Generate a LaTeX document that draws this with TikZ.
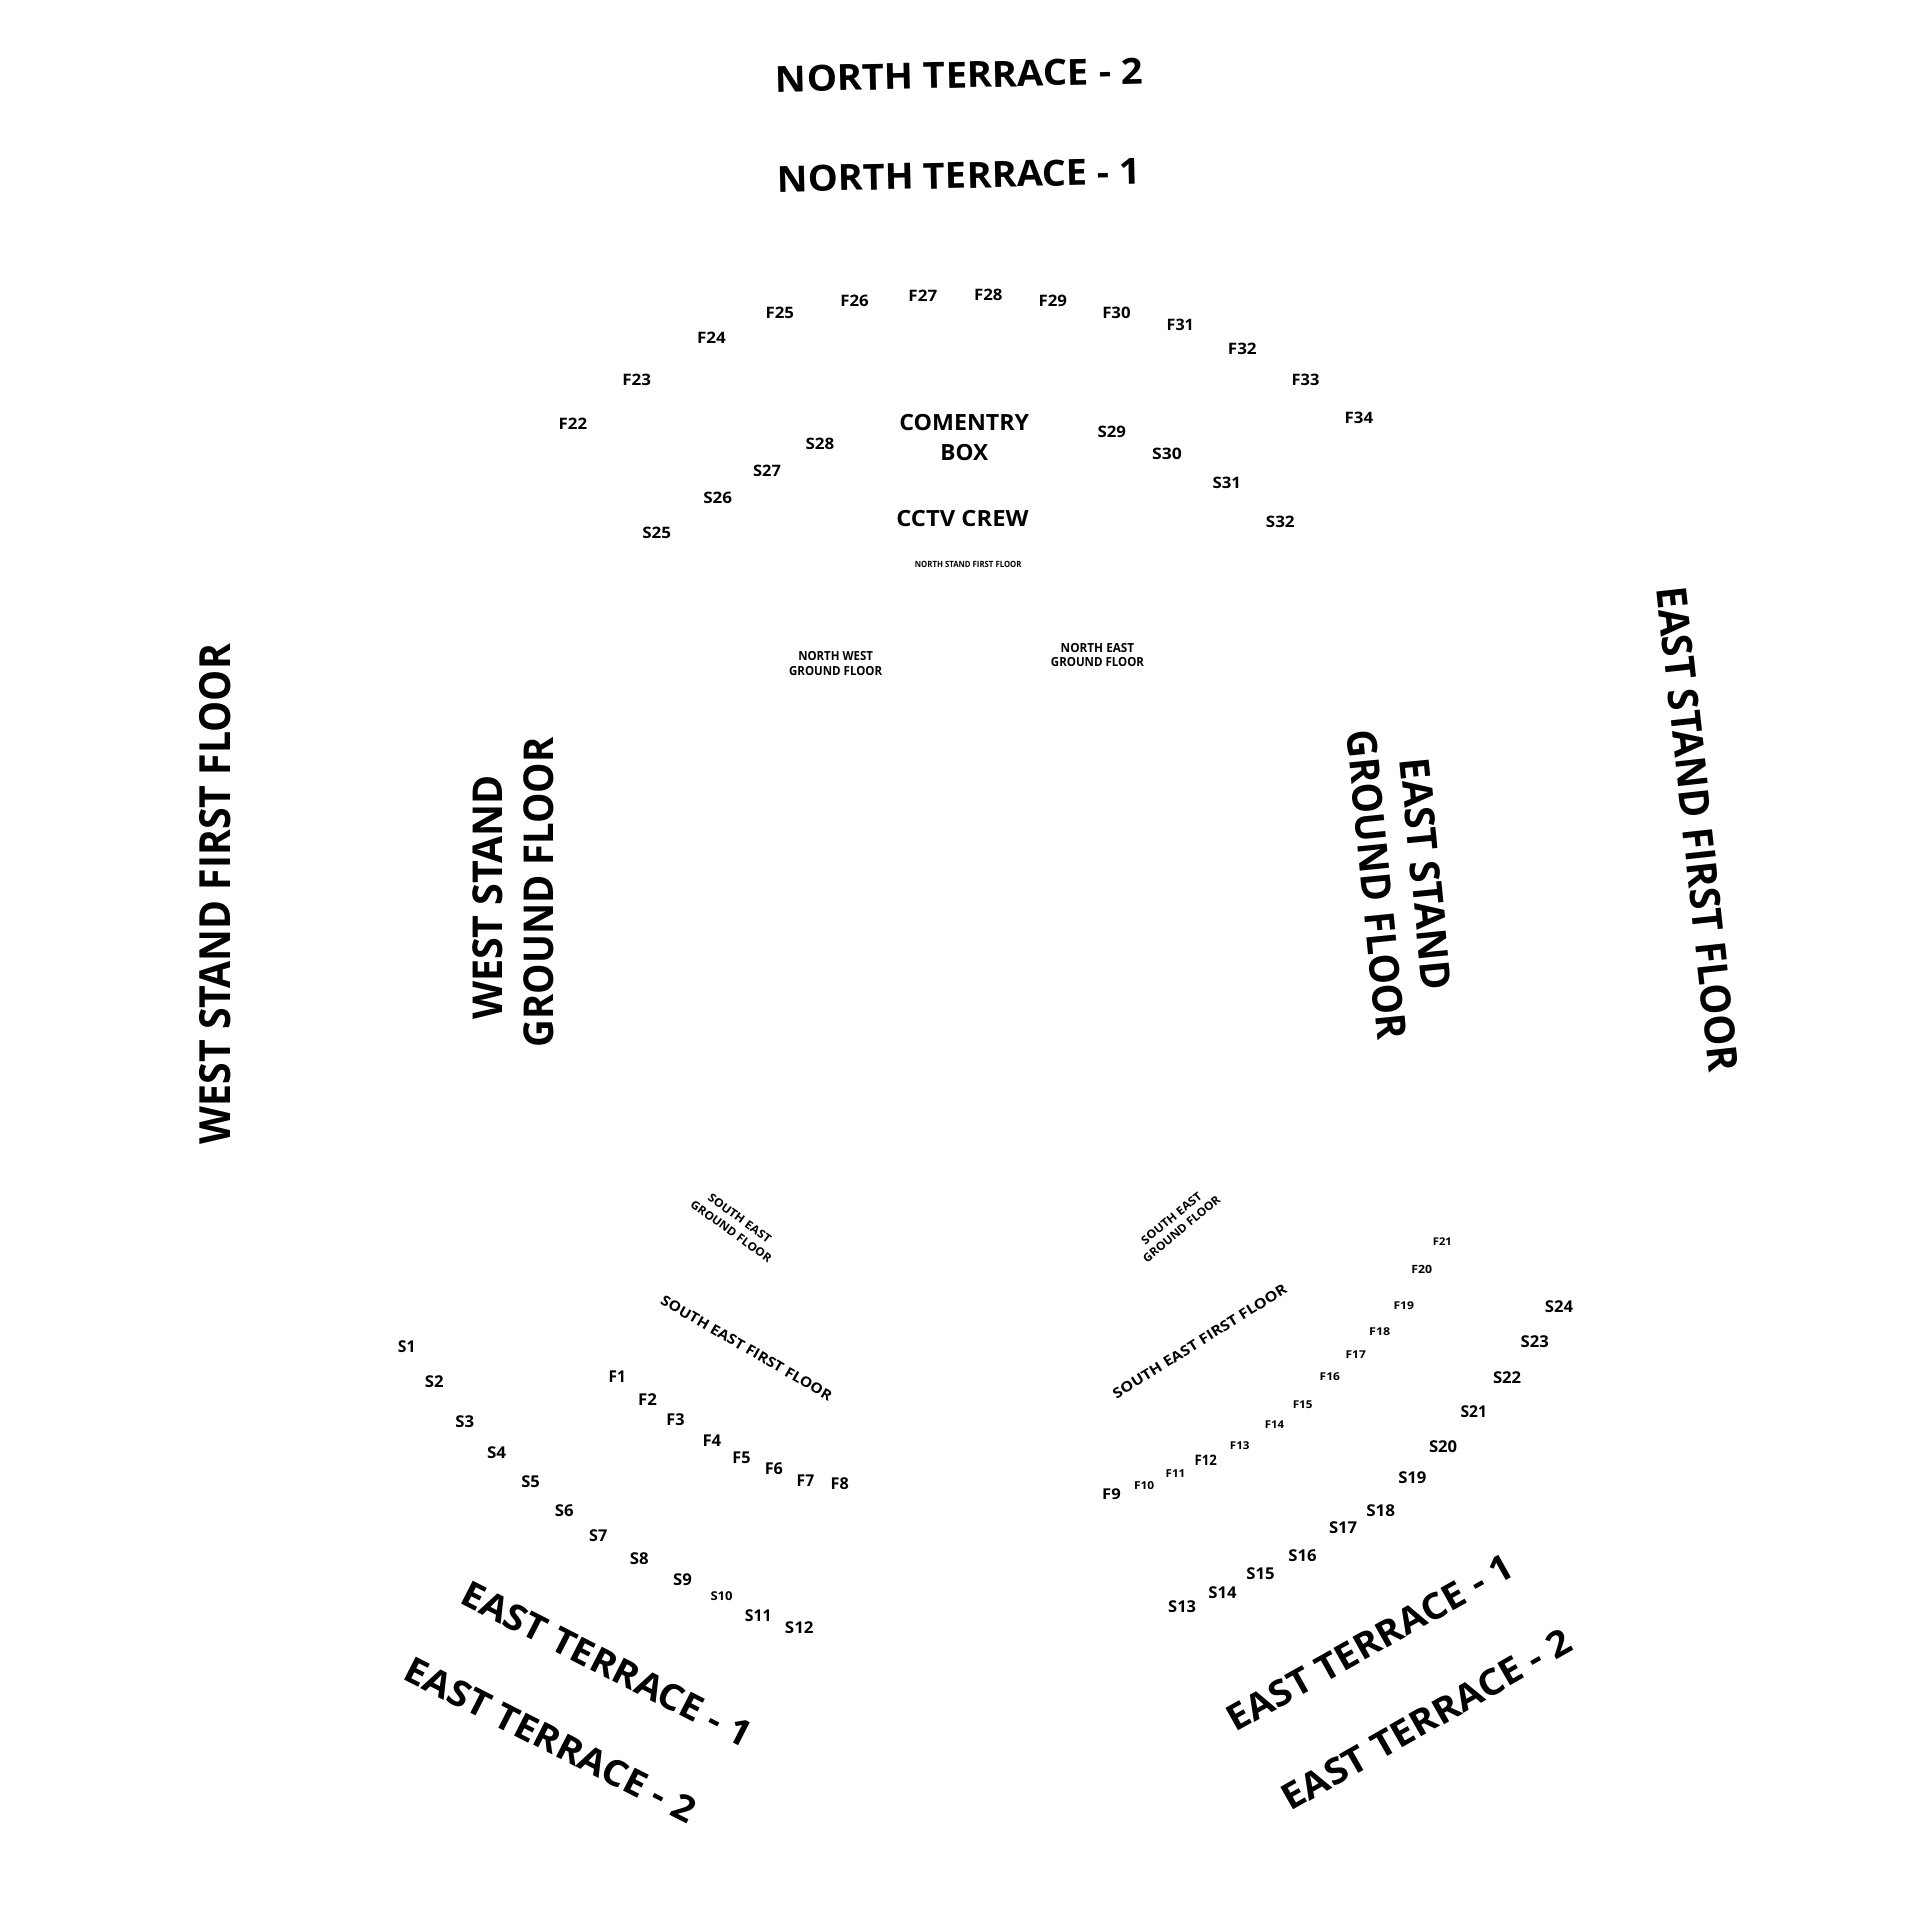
\documentclass[tikz,border=0pt]{standalone}
\usepackage{fontspec}
\setmainfont{Open Sans}
\tikzset{lbl/.style={inner sep=0pt, outer sep=0pt, font=\bfseries}}
\newsavebox\lblbox
\newcommand\mklabel[6]{%
  \pgfmathsetmacro\lblfs{#5/0.714}%
  \begin{pgfinterruptpicture}%
    \global\setbox\lblbox\hbox{\fontsize{\lblfs pt}{\lblfs pt}\selectfont\bfseries #6}%
  \end{pgfinterruptpicture}%
  \edef\lblwdt{\the\wd\lblbox}%
  \pgfmathsetmacro\lblsx{#4/\lblwdt}%
  \node[lbl,rotate=#3,xscale=\lblsx] (#1) at (#2) {\fontsize{\lblfs pt}{\lblfs pt}\selectfont #6};}
\begin{document}
\begin{tikzpicture}[x=1pt,y=-1pt]
\fill[white] (0,0) rectangle (1567,1567);
\useasboundingbox (0,0) rectangle (1567,1567);
% north terraces
\mklabel{nt2}{783,61.2}{1.3}{300}{21}{NORTH TERRACE - 2}
\mklabel{nt1}{782.7,143.1}{1.3}{297}{21}{NORTH TERRACE - 1}
% centre top
\mklabel{comentry}{787,344.6}{0}{106}{13}{COMENTRY}
\mklabel{box}{787,369.4}{0}{39}{13}{BOX}
\mklabel{cctv}{785.5,423}{0}{108}{13}{CCTV CREW}
\mklabel{nsff}{790.2,460.8}{0}{87}{5}{NORTH STAND FIRST FLOOR}
\mklabel{nwa}{682,535.3}{0}{61}{7.3}{NORTH WEST}
\mklabel{nwb}{682,547.3}{0}{76}{7.3}{GROUND FLOOR}
\mklabel{nea}{895.7,528.5}{0}{60}{7.3}{NORTH EAST}
\mklabel{neb}{895.7,540.7}{0}{76}{7.3}{GROUND FLOOR}
% north first floor seats
\mklabel{f22}{467.6,346}{0}{23.2}{9.2}{F22}
\mklabel{f23}{519.6,310}{0}{23.5}{9.2}{F23}
\mklabel{f24}{580.6,275.3}{0}{23.5}{9.2}{F24}
\mklabel{f25}{636.4,255.1}{0}{23.2}{9.2}{F25}
\mklabel{f26}{697.4,245.6}{0}{23.2}{9.2}{F26}
\mklabel{f27}{753.2,241}{0}{23.5}{9.2}{F27}
\mklabel{f28}{806.6,241}{0}{23.2}{9.2}{F28}
\mklabel{f29}{859.2,245.6}{0}{23.2}{9.2}{F29}
\mklabel{f30}{911.2,255.4}{0}{23.2}{9.2}{F30}
\mklabel{f31}{963.3,265.5}{0}{22.2}{9.2}{F31}
\mklabel{f32}{1013.9,284.8}{0}{23.5}{9.2}{F32}
\mklabel{f33}{1065.5,310}{0}{22.7}{9.2}{F33}
\mklabel{f34}{1109.1,341.4}{0}{23.2}{9.2}{F34}
\mklabel{s25}{536,435.2}{0}{23.5}{9.2}{S25}
\mklabel{s26}{585.7,406.6}{0}{23.5}{9.2}{S26}
\mklabel{s27}{626,384.1}{0}{22.7}{9.2}{S27}
\mklabel{s28}{669.2,362.6}{0}{23.5}{9.2}{S28}
\mklabel{s29}{907.4,352.8}{0}{23.2}{9.2}{S29}
\mklabel{s30}{952.4,370.5}{0}{24.2}{9.2}{S30}
\mklabel{s31}{1001.2,394.4}{0}{23.2}{9.2}{S31}
\mklabel{s32}{1044.9,426.2}{0}{23.5}{9.2}{S32}
% west
\mklabel{wsff}{175.9,729.7}{90}{408}{25}{WEST STAND FIRST FLOOR}
\mklabel{wsa}{398,732.4}{90}{200}{24}{WEST STAND}
\mklabel{wsb}{439.6,728.3}{90}{253}{24}{GROUND FLOOR}
% east
\mklabel{esff}{1385.6,676.6}{-83.8}{398}{24.3}{EAST STAND FIRST FLOOR}
\mklabel{esa}{1163.7,713.3}{-84.4}{190}{24}{EAST STAND}
\mklabel{esb}{1123.6,722.2}{-84.3}{254}{24}{GROUND FLOOR}
% south east labels left
\mklabel{segla}{603.7,994}{-36}{61}{6.7}{SOUTH EAST}
\mklabel{seglb}{596.8,1005}{-36}{79}{6.7}{GROUND FLOOR}
\mklabel{seffl}{609.3,1100.2}{-30}{159}{8.2}{SOUTH EAST FIRST FLOOR}
% south east labels right
\mklabel{segra}{956.1,994.2}{39.5}{61}{6.7}{SOUTH EAST}
\mklabel{segrb}{964.3,1003.1}{40}{79}{6.7}{GROUND FLOOR}
\mklabel{seffr}{979.2,1094.8}{32}{165}{8.2}{SOUTH EAST FIRST FLOOR}
% left seats S1-S12
\mklabel{s1}{331.9,1099.4}{0}{14.3}{9.5}{S1}
\mklabel{s2}{354.4,1128}{0}{15.3}{9.5}{S2}
\mklabel{s3}{379.4,1160.6}{0}{15.3}{9.5}{S3}
\mklabel{s4}{405.3,1185.9}{0}{15.6}{9.5}{S4}
\mklabel{s5}{433,1209.6}{0}{15.1}{9.5}{S5}
\mklabel{s6}{460.5,1233}{0}{15.3}{9.5}{S6}
\mklabel{s7}{488.2,1253.1}{0}{14.8}{9.5}{S7}
\mklabel{s8}{521.7,1272.4}{0}{15.3}{9.5}{S8}
\mklabel{s9}{557.1,1289.3}{0}{15.3}{9.5}{S9}
\mklabel{s10}{588.9,1302.9}{0}{18}{7.1}{S10}
\mklabel{s11}{618.8,1318.7}{0}{21.8}{9.5}{S11}
\mklabel{s12}{652.3,1328.7}{0}{23.4}{9.5}{S12}
% left seats F1-F8
\mklabel{f1}{503.7,1123.9}{0}{14}{9.5}{F1}
\mklabel{f2}{528.5,1142.4}{0}{15.3}{9.5}{F2}
\mklabel{f3}{551.3,1158.7}{0}{14.8}{9.5}{F3}
\mklabel{f4}{581,1175.9}{0}{15.3}{9.5}{F4}
\mklabel{f5}{605.2,1190}{0}{14.8}{9.5}{F5}
\mklabel{f6}{631.6,1198.7}{0}{14.8}{9.5}{F6}
\mklabel{f7}{657.4,1208.5}{0}{14.3}{9.5}{F7}
\mklabel{f8}{685.4,1211}{0}{14.8}{9.5}{F8}
% right seats F9-F21
\mklabel{f9}{907.1,1219.1}{0}{15.2}{8.7}{F9}
\mklabel{f10}{933.8,1212.3}{0}{16.5}{6.4}{F10}
\mklabel{f11}{959.4,1202.8}{0}{16}{6.4}{F11}
\mklabel{f12}{984.1,1191.4}{0}{18.2}{8.4}{F12}
\mklabel{f13}{1011.8,1179.7}{0}{16}{6.3}{F13}
\mklabel{f14}{1040.1,1162.8}{0}{15.7}{6.3}{F14}
\mklabel{f15}{1063.2,1146.5}{0}{16.2}{6.3}{F15}
\mklabel{f16}{1085.3,1123.4}{0}{16.5}{6.3}{F16}
\mklabel{f17}{1106.5,1105.4}{0}{16.5}{6.3}{F17}
\mklabel{f18}{1126.1,1086.7}{0}{17.3}{6.3}{F18}
\mklabel{f19}{1145.7,1065.7}{0}{16.8}{6.3}{F19}
\mklabel{f20}{1160.4,1036.3}{0}{17}{6.6}{F20}
\mklabel{f21}{1177.2,1013.5}{0}{15.4}{6.2}{F21}
% right seats S13-S24
\mklabel{s13}{964.8,1311.6}{0}{22.7}{9.5}{S13}
\mklabel{s14}{997.7,1299.6}{0}{23}{9.5}{S14}
\mklabel{s15}{1028.7,1284.6}{0}{23}{9.5}{S15}
\mklabel{s16}{1063,1269.7}{0}{23}{9.5}{S16}
\mklabel{s17}{1096.2,1247.1}{0}{23}{9.5}{S17}
\mklabel{s18}{1126.9,1233}{0}{23.5}{9.5}{S18}
\mklabel{s19}{1152.7,1206.3}{0}{23}{9.5}{S19}
\mklabel{s20}{1177.8,1181}{0}{23}{9.5}{S20}
\mklabel{s21}{1202.8,1152.5}{0}{21.6}{9.5}{S21}
\mklabel{s22}{1230,1124.2}{0}{23}{9.5}{S22}
\mklabel{s23}{1252.6,1094.8}{0}{23}{9.5}{S23}
\mklabel{s24}{1272.4,1066.3}{0}{23}{9.5}{S24}
% east terraces
\mklabel{etla}{495.3,1358}{-27}{262}{21}{EAST TERRACE - 1}
\mklabel{etlb}{449.4,1419.8}{-27}{262}{21}{EAST TERRACE - 2}
\mklabel{etra}{1118.2,1340.7}{29.3}{263}{21}{EAST TERRACE - 1}
\mklabel{etrb}{1164.1,1403.5}{29.7}{267}{21}{EAST TERRACE - 2}
\end{tikzpicture}
\end{document}
